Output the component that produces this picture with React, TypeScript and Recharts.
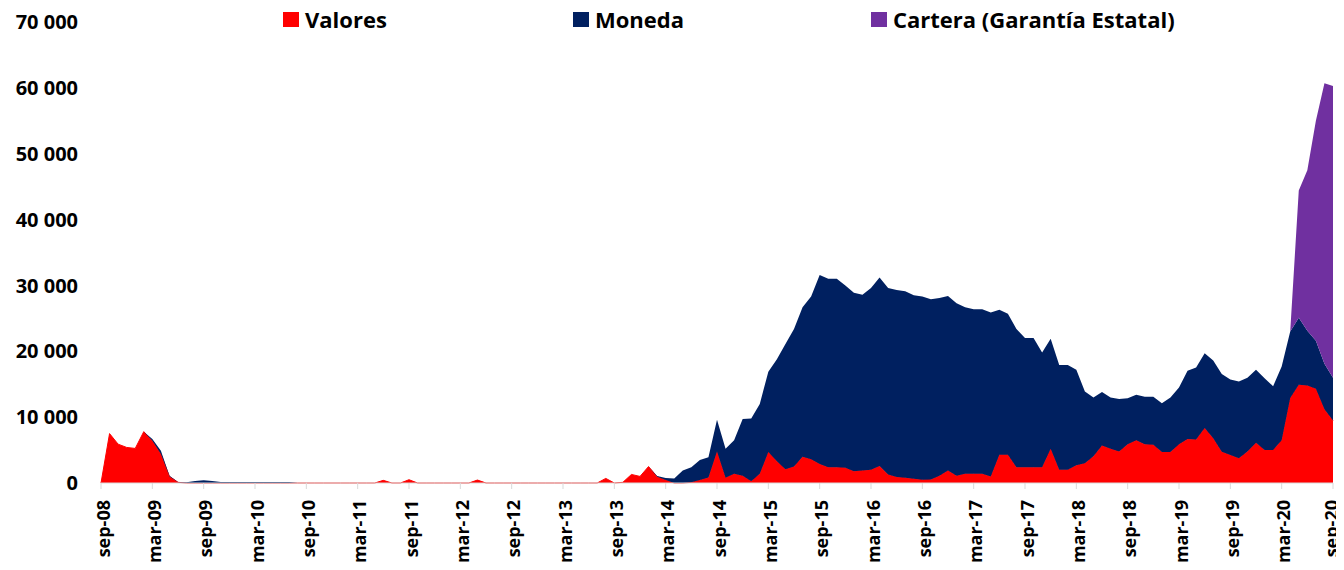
import { Area, AreaChart, XAxis, YAxis } from 'recharts'

// monthly, sep-08 .. sep-20
const monthNames = ['ene', 'feb', 'mar', 'abr', 'may', 'jun', 'jul', 'ago', 'sep', 'oct', 'nov', 'dic']
const months: string[] = []
for (let y = 2008; y <= 2020; y++) {
  for (let m = 0; m < 12; m++) {
    if (y === 2008 && m < 8) continue
    if (y === 2020 && m > 8) continue
    months.push(`${monthNames[m]}-${String(y).slice(2)}`)
  }
}

const valores = [
  0, 7500, 5900, 5400,
  5250, 7800, 6400, 4400, 1000, 100, 0, 0, 0, 0, 0, 0,
  0, 0, 0, 0, 0, 0, 0, 0, 0, 0, 0, 0,
  0, 0, 0, 0, 0, 400, 0, 0, 500, 0, 0, 0,
  0, 0, 0, 0, 450, 0, 0, 0, 0, 0, 0, 0,
  0, 0, 0, 0, 0, 0, 0, 700, 0, 100, 1300, 1000,
  2500, 950, 450, 0, 0, 100, 450, 850, 4800, 800, 1400, 1100,
  250, 1400, 4700, 3300, 2100, 2500, 4000, 3600, 2900, 2400, 2400, 2300,
  1800, 1900, 2000, 2600, 1300, 900, 800, 650, 500, 550, 1100, 1900,
  1100, 1400, 1400, 1400, 1000, 4300, 4300, 2400, 2400, 2400, 2400, 5200,
  2000, 2000, 2700, 3000, 4050, 5700, 5200, 4800, 5900, 6500, 5900, 5800,
  4700, 4700, 5900, 6700, 6600, 8350, 6800, 4750, 4250, 3750, 4800, 6100,
  5000, 5000, 6500, 12900, 14900, 14800, 14300, 11200, 9500,
]

const moneda = [
  0, 0, 0, 0,
  0, 0, 300, 500, 100, 50, 100, 300, 400, 300, 150, 150,
  150, 150, 150, 150, 150, 150, 150, 0, 0, 0, 0, 0,
  0, 0, 0, 0, 0, 0, 0, 0, 0, 0, 0, 0,
  0, 0, 0, 0, 0, 0, 0, 0, 0, 0, 0, 0,
  0, 0, 0, 0, 0, 0, 0, 0, 0, 0, 0, 0,
  0, 100, 300, 700, 1900, 2300, 3050, 3050, 4800, 4400, 5100, 8600,
  9550, 10600, 12200, 15500, 19000, 20900, 22700, 24700, 28700, 28600, 28600, 27700,
  27100, 26700, 27600, 28600, 28300, 28400, 28300, 27850, 27800, 27350, 27000, 26500,
  26200, 25300, 25000, 25000, 24900, 22000, 21400, 21000, 19600, 19600, 17400, 16700,
  15900, 15900, 14500, 10900, 8950, 8100, 7800, 7950, 6950, 6900, 7200, 7300,
  7400, 8300, 8600, 10350, 10950, 11350, 11800, 11800, 11450, 11650, 11200, 11100,
  10900, 9700, 11200, 10100, 10200, 8300, 7300, 6900, 6500,
]

const cartera = [
  0, 0, 0, 0,
  0, 0, 0, 0, 0, 0, 0, 0, 0, 0, 0, 0,
  0, 0, 0, 0, 0, 0, 0, 0, 0, 0, 0, 0,
  0, 0, 0, 0, 0, 0, 0, 0, 0, 0, 0, 0,
  0, 0, 0, 0, 0, 0, 0, 0, 0, 0, 0, 0,
  0, 0, 0, 0, 0, 0, 0, 0, 0, 0, 0, 0,
  0, 0, 0, 0, 0, 0, 0, 0, 0, 0, 0, 0,
  0, 0, 0, 0, 0, 0, 0, 0, 0, 0, 0, 0,
  0, 0, 0, 0, 0, 0, 0, 0, 0, 0, 0, 0,
  0, 0, 0, 0, 0, 0, 0, 0, 0, 0, 0, 0,
  0, 0, 0, 0, 0, 0, 0, 0, 0, 0, 0, 0,
  0, 0, 0, 0, 0, 0, 0, 0, 0, 0, 0, 0,
  0, 0, 0, 0, 19300, 24400, 33400, 42600, 44300,
]

const yTicks = [0, 10000, 20000, 30000, 40000, 50000, 60000, 70000]

const legendItems = [
  { name: 'Valores', color: '#ff0000', left: 283 },
  { name: 'Moneda', color: '#002060', left: 573 },
  { name: 'Cartera (Garantía Estatal)', color: '#7030a0', left: 871 },
]

const data = months.map((label, i) => ({
  label,
  valores: valores[i],
  moneda: moneda[i],
  cartera: cartera[i],
}))

const font = "'Open Sans', sans-serif"

const fmt = (v: number) => String(v).replace(/\B(?=(\d{3})+(?!\d))/g, ' ')

function MonthTick({ x, y, payload }: any) {
  // keep the last label inside the right edge
  const tx = Math.min(x + 1.5, 1331)
  return (
    <text
      transform={`translate(${tx},${y}) rotate(-90)`}
      textAnchor="end"
      dominantBaseline="central"
      fontFamily={font}
      fontWeight={700}
      fontSize={18}
      fill="#000"
    >
      {payload.value}
    </text>
  )
}

export default function App() {
  return (
    <div style={{ position: 'relative', width: 1344, height: 570, margin: -8 }}>
      <AreaChart width={1344} height={570} data={data} margin={{ top: 22, right: 11, bottom: 0, left: 0 }}>
        <XAxis
          dataKey="label"
          interval={5}
          height={87}
          stroke="#d9d9d9"
          tickSize={6}
          tickMargin={11}
          tick={<MonthTick />}
        />
        <YAxis
          width={101}
          domain={[0, 70000]}
          ticks={yTicks}
          axisLine={false}
          tickLine={false}
          tickSize={0}
          tickMargin={23}
          tickFormatter={fmt}
          tick={{ fontFamily: font, fontWeight: 700, fontSize: 20, fill: '#000' }}
        />
        <Area
          type="linear"
          dataKey="valores"
          stackId="a"
          fill="#ff0000"
          fillOpacity={1}
          stroke="#ff0000"
          strokeWidth={1}
          isAnimationActive={false}
        />
        <Area
          type="linear"
          dataKey="moneda"
          stackId="a"
          fill="#002060"
          fillOpacity={1}
          stroke="none"
          isAnimationActive={false}
        />
        <Area
          type="linear"
          dataKey="cartera"
          stackId="a"
          fill="#7030a0"
          fillOpacity={1}
          stroke="none"
          isAnimationActive={false}
        />
      </AreaChart>
      {legendItems.map((item) => (
        <div
          key={item.name}
          style={{
            position: 'absolute',
            top: 4,
            left: item.left,
            display: 'flex',
            alignItems: 'center',
            fontFamily: font,
            fontWeight: 700,
            fontSize: 22,
            color: '#000',
            whiteSpace: 'nowrap',
          }}
        >
          <span style={{ display: 'inline-block', width: 16, height: 15, background: item.color, marginRight: 6 }} />
          {item.name}
        </div>
      ))}
    </div>
  )
}
